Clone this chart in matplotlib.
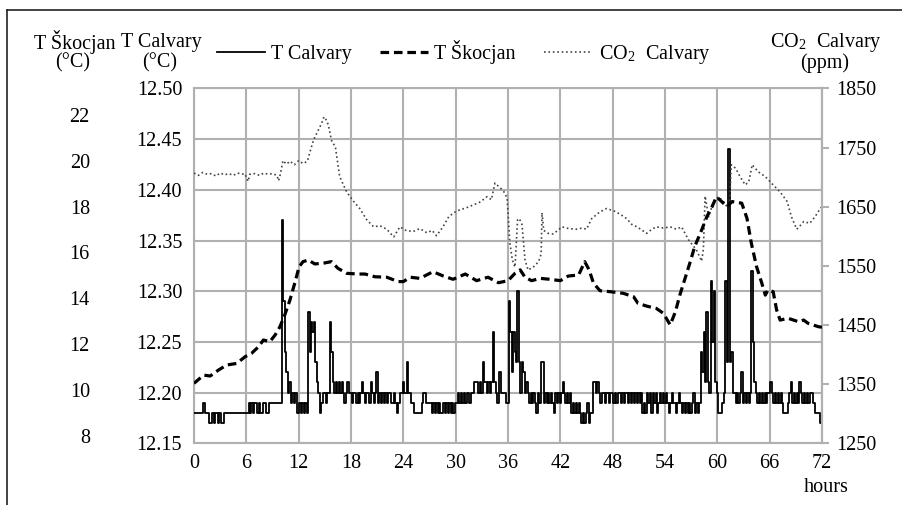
import matplotlib.pyplot as plt
from matplotlib.lines import Line2D

plt.rcParams['font.family'] = ['Liberation Serif', 'DejaVu Serif']
plt.rcParams['mathtext.fontset'] = 'stix'

# T Calvary: hundredths of a degree above 12.00 C, one reading every 10 minutes (0 .. 72 h)
calvary_cent = [
    18, 18, 18, 18, 18, 18, 18, 19, 18, 18, 18, 17,
    17, 18, 17, 18, 18, 17, 18, 17, 17, 18, 18, 18,
    18, 18, 18, 18, 18, 18, 18, 18, 18, 18, 18, 18,
    18, 18, 19, 18, 19, 18, 19, 19, 18, 19, 18, 18,
    19, 19, 18, 18, 19, 19, 19, 19, 19, 19, 19, 19,
    19, 37, 29, 24, 22, 20, 21, 19, 20, 19, 20, 18,
    18, 19, 18, 19, 18, 19, 18, 28, 24, 27, 26, 27,
    23, 21, 20, 18, 19, 20, 20, 19, 20, 20, 27, 24,
    21, 20, 21, 20, 21, 20, 21, 20, 19, 20, 21, 20,
    20, 19, 20, 20, 19, 20, 19, 20, 21, 20, 19, 20,
    20, 19, 21, 20, 19, 20, 22, 19, 20, 19, 20, 19,
    20, 19, 20, 20, 19, 19, 20, 19, 18, 19, 20, 20,
    21, 20, 20, 23, 20, 20, 19, 19, 18, 18, 18, 18,
    18, 19, 20, 20, 19, 19, 19, 19, 18, 19, 18, 19,
    18, 19, 18, 18, 19, 18, 19, 18, 19, 18, 19, 18,
    19, 19, 20, 19, 20, 19, 20, 19, 20, 20, 19, 20,
    20, 21, 21, 21, 20, 21, 20, 23, 21, 21, 20, 21,
    20, 21, 26, 21, 20, 19, 22, 22, 20, 20, 20, 19,
    19, 29, 26, 22, 26, 24, 23, 30, 23, 20, 23, 22,
    20, 21, 20, 19, 20, 19, 20, 19, 18, 20, 19, 23,
    23, 19, 20, 19, 20, 19, 20, 19, 18, 20, 19, 20,
    19, 20, 21, 20, 19, 20, 19, 20, 18, 19, 18, 19,
    18, 19, 18, 17, 18, 17, 18, 19, 17, 18, 18, 21,
    21, 20, 21, 20, 19, 20, 20, 19, 20, 20, 19, 20,
    20, 19, 20, 19, 20, 20, 19, 20, 19, 20, 20, 19,
    20, 19, 20, 19, 20, 19, 20, 19, 20, 18, 19, 18,
    20, 19, 20, 18, 20, 19, 20, 18, 19, 20, 19, 20,
    19, 20, 19, 18, 19, 20, 19, 19, 18, 19, 20, 19,
    18, 19, 18, 19, 18, 19, 18, 19, 20, 18, 19, 18,
    19, 24, 22, 26, 21, 28, 21, 20, 31, 25, 30, 21,
    20, 18, 18, 18, 19, 20, 31, 23, 44, 23, 24, 20,
    20, 19, 20, 19, 20, 22, 19, 20, 19, 20, 19, 20,
    32, 25, 21, 20, 19, 20, 19, 20, 19, 20, 19, 20,
    20, 21, 20, 19, 20, 19, 20, 19, 20, 19, 18, 18,
    18, 19, 20, 21, 19, 20, 19, 20, 19, 21, 20, 19,
    20, 19, 20, 19, 20, 20, 19, 19, 18, 18, 18, 17,
    17,
]

# T Skocjan (C)
skocjan_hours = [0, 1.1, 1.85, 2.8, 3.75, 4.9, 5.85, 6.6, 7.4, 7.95,
                 8.7, 9.3, 9.85, 10.4, 11.0, 11.6, 12.05, 12.5, 13.1, 13.85,
                 14.8, 15.75, 16.5, 17.5, 18.8, 19.6, 20.75, 22.1, 23.4, 24.0,
                 24.8, 25.9, 27.4, 28.6, 29.7, 31.1, 32.4, 33.7, 34.9, 36.0,
                 36.8, 37.4, 37.95, 38.7, 39.7, 40.8, 42.0, 42.9, 44.1, 44.8,
                 45.3, 45.8, 46.55, 47.7, 49.2, 50.4, 50.9, 51.9, 53.0, 53.8,
                 54.6, 55.2, 55.7, 56.3, 56.9, 57.4, 58.2, 58.8, 59.4, 59.9,
                 60.5, 61.1, 61.7, 62.8, 63.4, 63.9, 64.5, 65.1, 65.5, 65.8,
                 66.4, 66.8, 67.2, 68.1, 69.3, 69.9, 70.4, 71.6, 72]
skocjan_temp = [10.29, 10.65, 10.61, 10.87, 11.09, 11.16, 11.45, 11.60, 11.89, 12.18,
                12.11, 12.40, 12.76, 13.27, 13.93, 14.73, 15.38, 15.60, 15.67, 15.50,
                15.53, 15.60, 15.31, 15.09, 15.06, 15.06, 14.94, 14.92, 14.73, 14.73,
                14.92, 14.87, 15.16, 14.97, 14.83, 15.06, 14.77, 14.92, 14.68, 14.77,
                15.09, 15.24, 14.92, 14.77, 14.87, 14.83, 14.77, 14.97, 15.02, 15.60,
                15.24, 14.66, 14.33, 14.29, 14.22, 14.07, 13.78, 13.66, 13.56, 13.35,
                12.84, 13.42, 14.14, 14.87, 15.60, 16.25, 16.98, 17.56, 18.00, 18.43,
                18.22, 18.00, 18.22, 18.15, 17.49, 16.40, 15.38, 14.66, 14.14, 14.36,
                14.29, 13.49, 13.05, 13.13, 12.98, 13.05, 12.91, 12.76, 12.74]

# CO2 Calvary (ppm)
co2_hours = [0, 0.5, 1, 1.5, 2, 2.5, 3, 3.5, 4, 4.5,
             5, 5.5, 5.8, 6.0, 6.2, 6.4, 7, 7.5, 8, 8.5,
             9, 9.5, 9.7, 9.9, 10.2, 10.6, 11, 11.5, 12, 12.5,
             13, 13.3, 13.7, 14.2, 14.6, 14.9, 15.2, 15.4, 15.8, 16.2,
             16.7, 17.1, 17.5, 18.3, 19.0, 19.8, 20.6, 21.3, 22.1, 22.9,
             23.6, 24.3, 25.1, 25.9, 26.7, 27.3, 27.8, 28.5, 29.2, 29.8,
             30.5, 31.2, 32.0, 32.8, 33.6, 34.1, 34.5, 35.1, 35.5, 35.9,
             36.2, 36.5, 36.8, 37.1, 37.3, 37.6, 37.95, 38.3, 38.9, 39.5,
             39.8, 39.9, 40.1, 40.6, 41.2, 42.2, 43.0, 43.8, 44.5, 45.0,
             45.6, 46.5, 47.3, 48.3, 49.0, 49.6, 50.2, 50.8, 51.4, 51.9,
             52.5, 53.0, 53.8, 54.6, 55.3, 55.9, 56.7, 57.6, 58.2, 58.4,
             58.6, 59.0, 59.5, 60.1, 60.7, 61.1, 61.4, 61.6, 62.1, 62.6,
             63.2, 63.6, 64.0, 64.7, 65.5, 66.4, 67.2, 68.0, 68.5, 69.1,
             69.5, 69.9, 70.6, 71.2, 71.8, 72]
co2_ppm = [1707, 1703, 1708, 1705, 1706, 1702, 1707, 1704, 1706, 1703,
           1707, 1705, 1706, 1700, 1693, 1705, 1706, 1703, 1707, 1705,
           1706, 1703, 1694, 1705, 1728, 1722, 1727, 1721, 1728, 1723,
           1727, 1743, 1763, 1778, 1790, 1802, 1796, 1788, 1760, 1752,
           1701, 1688, 1675, 1659, 1647, 1628, 1616, 1618, 1612, 1599,
           1616, 1610, 1608, 1613, 1606, 1610, 1601, 1615, 1633, 1640,
           1645, 1648, 1653, 1658, 1667, 1662, 1690, 1682, 1676, 1665,
           1590, 1560, 1548, 1628, 1630, 1620, 1560, 1543, 1548, 1557,
           1570, 1640, 1610, 1605, 1604, 1616, 1613, 1612, 1614, 1612,
           1630, 1641, 1647, 1642, 1636, 1630, 1620, 1616, 1610, 1605,
           1612, 1616, 1614, 1616, 1612, 1616, 1594, 1577, 1558, 1578,
           1668, 1633, 1656, 1667, 1659, 1650, 1656, 1721, 1715, 1701,
           1687, 1692, 1721, 1709, 1701, 1687, 1675, 1659, 1633, 1612,
           1618, 1625, 1622, 1633, 1647, 1650]

hour_ticks = [0, 6, 12, 18, 24, 30, 36, 42, 48, 54, 60, 66, 72]
calvary_ticks = [12.15, 12.20, 12.25, 12.30, 12.35, 12.40, 12.45, 12.50]
skocjan_ticks = [8, 10, 12, 14, 16, 18, 20, 22]
co2_ticks = [1250, 1350, 1450, 1550, 1650, 1750, 1850]

calvary_hours = [i / 6 for i in range(len(calvary_cent))]
calvary_temp = [12 + c / 100 for c in calvary_cent]

fs = 14.5
grey = '#b0b0b0'
co2_col = '#444444'

fig = plt.figure(figsize=(9.02, 5.05), dpi=100)
ax = fig.add_axes([0.2151, 0.1222, 0.6962, 0.7026])

ax.plot(calvary_hours, calvary_temp, color='black', lw=1.3, drawstyle='steps-mid', zorder=3)
ax.set_xlim(0, 72)
ax.set_ylim(12.15, 12.50)
ax.set_xticks(hour_ticks)
ax.set_yticks(calvary_ticks)
ax.set_yticklabels([f'{v:.2f}' for v in calvary_ticks])
ax.grid(True, color=grey, lw=1.5)
ax.set_axisbelow(True)
ax.tick_params(axis='x', length=0, labelsize=fs, pad=8)
ax.tick_params(axis='y', length=0, labelsize=fs, pad=8.5)
for s in ax.spines.values():
    s.set_color(grey)
    s.set_linewidth(1.5)

# CO2 on the right
co2_ax = ax.twinx()
co2_ax.plot(co2_hours, co2_ppm, color=co2_col, lw=1.2, ls=':')
co2_ax.set_ylim(1250, 1850)
co2_ax.set_yticks(co2_ticks)
co2_ax.tick_params(axis='y', length=5, width=1.5, color=grey, labelsize=fs, pad=5)
for name, s in co2_ax.spines.items():
    s.set_visible(name == 'right')
co2_ax.spines['right'].set_color(grey)
co2_ax.spines['right'].set_linewidth(1.5)

# T Skocjan on an outer left scale
sk_ax = ax.twinx()
dash = (0, (2.7, 1.5))
sk_ax.plot(skocjan_hours, skocjan_temp, color='black', lw=2.3, ls=dash)
sk_ax.set_ylim(7.675, 23.155)
sk_ax.set_yticks(skocjan_ticks)
sk_ax.yaxis.tick_left()
sk_ax.tick_params(axis='y', length=0, labelsize=fs, pad=75)
for s in sk_ax.spines.values():
    s.set_visible(False)

# axis titles
fig.text(75 / 902, 1 - 42 / 505, 'T Škocjan', ha='center', va='center', fontsize=fs)
fig.text(73 / 902, 1 - 63 / 505, '(°C)', ha='center', va='center', fontsize=fs)
fig.text(161 / 902, 1 - 42 / 505, 'T Calvary', ha='center', va='center', fontsize=fs)
fig.text(160 / 902, 1 - 63 / 505, '(°C)', ha='center', va='center', fontsize=fs)
fig.text(826 / 902, 1 - 42 / 505, r'CO$_\mathregular{2}$  Calvary', ha='center', va='center', fontsize=fs)
fig.text(825 / 902, 1 - 63 / 505, '(ppm)', ha='center', va='center', fontsize=fs)
fig.text(826 / 902, 1 - 487 / 505, 'hours', ha='center', va='center', fontsize=fs)

handles = [Line2D([], [], color='black', lw=1.3),
           Line2D([], [], color='black', lw=2.3, ls=dash),
           Line2D([], [], color=co2_col, lw=1.2, ls=':')]
labels = ['T Calvary', 'T Škocjan', r'CO$_\mathregular{2}$  Calvary']
fig.legend(handles, labels, loc='center', bbox_to_anchor=(0.514, 0.895), ncol=3,
           frameon=False, fontsize=fs, handlelength=2.4, handletextpad=0.3,
           columnspacing=1.4)

# outer frame (left and top edges)
fig.add_artist(Line2D([7 / 902, 7 / 902], [0, 1 - 10 / 505], transform=fig.transFigure,
                      color='#222222', lw=1.2))
fig.add_artist(Line2D([7 / 902, 1], [1 - 10 / 505, 1 - 10 / 505], transform=fig.transFigure,
                      color='#222222', lw=1.2))

fig.savefig('out.png', dpi=100)
